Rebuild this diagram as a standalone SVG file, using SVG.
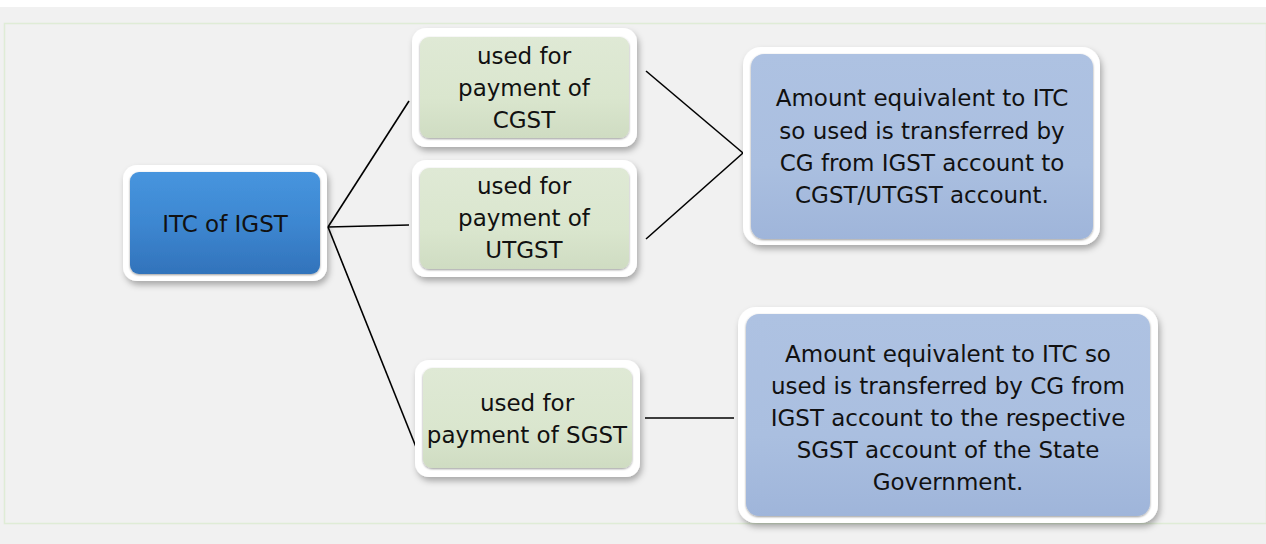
<svg xmlns="http://www.w3.org/2000/svg" width="1266" height="544" viewBox="0 0 1266 544">
<style>
.t{font-family:"DejaVu Sans","Liberation Sans",sans-serif;font-size:23px;fill:#111;text-anchor:middle;dominant-baseline:central}
.frame{fill:#fff;filter:url(#sh)}
.line{stroke:#000;stroke-width:1.6;fill:none}
</style>
<defs>
<filter id="sh" x="-10%" y="-10%" width="125%" height="130%">
<feDropShadow dx="2" dy="4" stdDeviation="3" flood-color="#000" flood-opacity="0.3"/>
</filter>
<filter id="ins" x="-5%" y="-5%" width="110%" height="110%">
<feDropShadow dx="0" dy="1" stdDeviation="1.2" flood-color="#000" flood-opacity="0.4"/>
</filter>
<linearGradient id="gBlue" x1="0" y1="0" x2="0" y2="1">
<stop offset="0" stop-color="#4795de"/>
<stop offset="0.5" stop-color="#3d87d1"/>
<stop offset="1" stop-color="#3273bb"/>
</linearGradient>
<linearGradient id="gGreen" x1="0" y1="0" x2="0" y2="1">
<stop offset="0" stop-color="#dfe9d5"/>
<stop offset="0.6" stop-color="#dae6ce"/>
<stop offset="1" stop-color="#cfdcc2"/>
</linearGradient>
<linearGradient id="gLav" x1="0" y1="0" x2="0" y2="1">
<stop offset="0" stop-color="#aec2e2"/>
<stop offset="0.6" stop-color="#aabfe0"/>
<stop offset="1" stop-color="#9fb5da"/>
</linearGradient>
</defs>
<rect x="0" y="0" width="1266" height="544" fill="#fff"/>
<rect x="0" y="7" width="1266" height="537" fill="#f1f1f1"/>
<rect x="4.5" y="23.5" width="1262" height="500" fill="none" stroke="#dfecd6" stroke-width="1.5"/>

<g id="connectors" class="line">
<line x1="328" y1="227" x2="409" y2="101"/>
<line x1="328" y1="227" x2="409" y2="225"/>
<line x1="328" y1="227" x2="416" y2="447"/>
<line x1="646" y1="71" x2="743" y2="153"/>
<line x1="646" y1="239" x2="743" y2="153"/>
<line x1="645" y1="418" x2="734" y2="418"/>
</g>

<g id="n-itc">
<rect class="frame" x="123" y="165" width="204" height="116" rx="14"/>
<rect x="130" y="172" width="190" height="102" rx="9" fill="url(#gBlue)" filter="url(#ins)"/>
<text class="t" x="225" y="224">ITC of IGST</text>
</g>

<g id="n-cgst">
<rect class="frame" x="412" y="28" width="225" height="119" rx="14"/>
<rect x="420" y="37" width="209" height="101" rx="9" fill="url(#gGreen)" filter="url(#ins)"/>
<text class="t" x="524" y="56">used for</text>
<text class="t" x="524" y="88">payment of</text>
<text class="t" x="524" y="120">CGST</text>
</g>

<g id="n-utgst">
<rect class="frame" x="412" y="160" width="225" height="117" rx="14"/>
<rect x="420" y="168" width="209" height="101" rx="9" fill="url(#gGreen)" filter="url(#ins)"/>
<text class="t" x="524" y="186">used for</text>
<text class="t" x="524" y="218">payment of</text>
<text class="t" x="524" y="250">UTGST</text>
</g>

<g id="n-sgst">
<rect class="frame" x="415" y="360" width="225" height="117" rx="14"/>
<rect x="423" y="368" width="209" height="100" rx="9" fill="url(#gGreen)" filter="url(#ins)"/>
<text class="t" x="527" y="403">used for</text>
<text class="t" x="527" y="435">payment of SGST</text>
</g>

<g id="n-cg-transfer">
<rect class="frame" x="743" y="47" width="357" height="198" rx="18"/>
<rect x="751" y="54" width="342" height="185" rx="13" fill="url(#gLav)" filter="url(#ins)"/>
<text class="t" x="922" y="98">Amount equivalent to ITC</text>
<text class="t" x="922" y="131">so used is transferred by</text>
<text class="t" x="922" y="163">CG from IGST account to</text>
<text class="t" x="922" y="195">CGST/UTGST account.</text>
</g>

<g id="n-sg-transfer">
<rect class="frame" x="738" y="307" width="420" height="216" rx="18"/>
<rect x="746" y="314" width="404" height="202" rx="13" fill="url(#gLav)" filter="url(#ins)"/>
<text class="t" x="948" y="354">Amount equivalent to ITC so</text>
<text class="t" x="948" y="386">used is transferred by CG from</text>
<text class="t" x="948" y="418">IGST account to the respective</text>
<text class="t" x="948" y="450">SGST account of the State</text>
<text class="t" x="948" y="482">Government.</text>
</g>
</svg>
